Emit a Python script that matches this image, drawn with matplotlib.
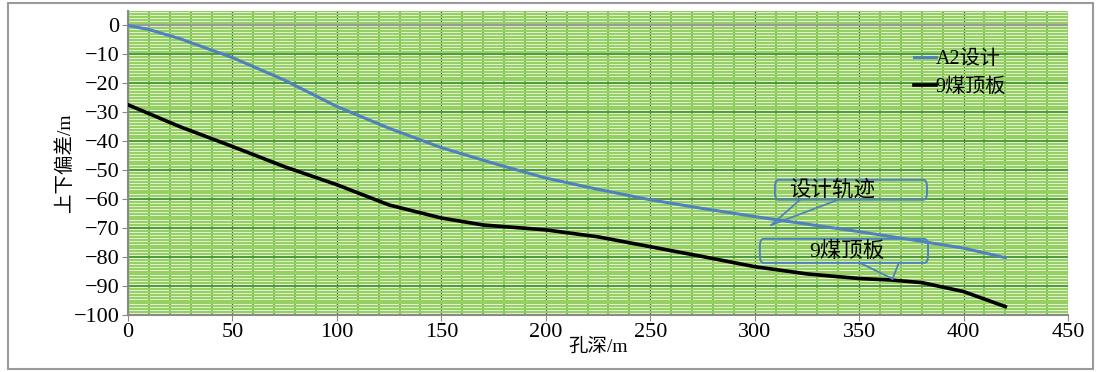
import matplotlib

matplotlib.use("Agg")
import matplotlib.pyplot as plt
from matplotlib.patches import FancyBboxPatch, Rectangle
from matplotlib.ticker import MultipleLocator

plt.rcParams["font.family"] = ["Liberation Serif", "Noto Sans CJK SC"]

# hole depth (m) and up/down deviation (m)
design_depth = [0, 10, 25, 50, 75, 100, 125, 150, 175, 200, 225, 250, 275,
                300, 325, 350, 375, 400, 420]
design_dev = [0, -1.4, -4.6, -11.1, -18.9, -28.0, -35.5, -42.2, -47.6, -52.7,
              -56.6, -60.2, -63.2, -66.0, -68.6, -71.2, -74.0, -76.9, -80.2]

coal_depth = [0, 25, 50, 75, 100, 110, 125, 150, 170, 200, 225, 250, 275,
              300, 325, 350, 365, 380, 400, 420]
coal_dev = [-27.4, -35.0, -41.8, -48.8, -55.0, -57.8, -62.0, -66.5, -68.9,
            -70.6, -73.0, -76.4, -79.8, -83.3, -85.8, -87.4, -87.9, -88.8,
            -91.9, -97.1]

y_ticks = list(range(-100, 1, 10))

fig = plt.figure(figsize=(11.01, 3.72), dpi=100)
ax = fig.add_axes([0.1163, 0.1532, 0.8537, 0.8172])

ax.set_facecolor("#e6f4d6")
ax.set_xlim(0, 450)
ax.set_ylim(-100, 5)
ax.xaxis.set_major_locator(MultipleLocator(50))
ax.xaxis.set_minor_locator(MultipleLocator(10))
ax.yaxis.set_minor_locator(MultipleLocator(1))

ax.grid(which="minor", axis="y", color="#96d065", lw=1.5)
ax.grid(which="minor", axis="x", color="#6cbf45", lw=1.4)
ax.grid(which="major", axis="y", color="#4e9a3c", lw=1.4)
ax.grid(which="major", axis="x", color="#2c6a34", lw=0.9)
ax.set_axisbelow(True)

ax.axhline(0, color="#9a9a9a", lw=1.6, zorder=2)

ax.plot(design_depth, design_dev, color="#4f81bd", lw=2.2, label="A2设计", zorder=3)
ax.plot(coal_depth, coal_dev, color="black", lw=2.6, label="9煤顶板", zorder=3)

for s in ["top", "right"]:
    ax.spines[s].set_visible(False)
for s in ["left", "bottom"]:
    ax.spines[s].set_color("#8a8a8a")
    ax.spines[s].set_linewidth(1.5)
ax.tick_params(which="major", length=4, color="#8a8a8a", labelsize=16, pad=2)
ax.tick_params(which="minor", length=0)
ax.set_yticks(y_ticks)
ax.set_yticklabels([str(v).replace("-", "\u2212") for v in y_ticks])

ax.set_xlabel("孔深/m", fontsize=14, labelpad=-3)
ax.set_ylabel("上下偏差/m", fontsize=14, labelpad=0)

ax.legend(loc="upper left", bbox_to_anchor=(0.825, 0.905), frameon=False,
          fontsize=14.5, handlelength=1.1, handletextpad=0.0, labelspacing=0.45,
          borderpad=0)

# callouts: (box x0, y0, width, height), label centre, pointer bases, tip
callouts = [
    ((309.7, -60.2, 72.8, 6.9), (337, -57.0), [321.7, 339.9], (308, -68.9),
     "设计轨迹"),
    ((302.5, -82.0, 80.5, 8.3), (344, -78.2), [350.4, 369.0], (366, -87.5),
     "9煤顶板"),
]
for (x0, y0, w, h), (tx, ty), bases, (px, py), label in callouts:
    ax.add_patch(FancyBboxPatch((x0, y0), w, h,
                                boxstyle="round,pad=0,rounding_size=1.8",
                                mutation_aspect=1.4, fc="none", ec="#4f81bd",
                                lw=1.4, zorder=4))
    ax.text(tx, ty, label, fontsize=15.5, ha="center", va="center", zorder=4)
    for bx in bases:
        ax.plot([bx, px], [y0, py], color="#4f81bd", lw=1.3, zorder=4)

fig.patches.append(Rectangle((0.007, 0.008), 0.986, 0.985,
                             transform=fig.transFigure, fill=False,
                             ec="#9a9a9a", lw=1.5))

fig.savefig("out.png", dpi=100)
plt.close(fig)
